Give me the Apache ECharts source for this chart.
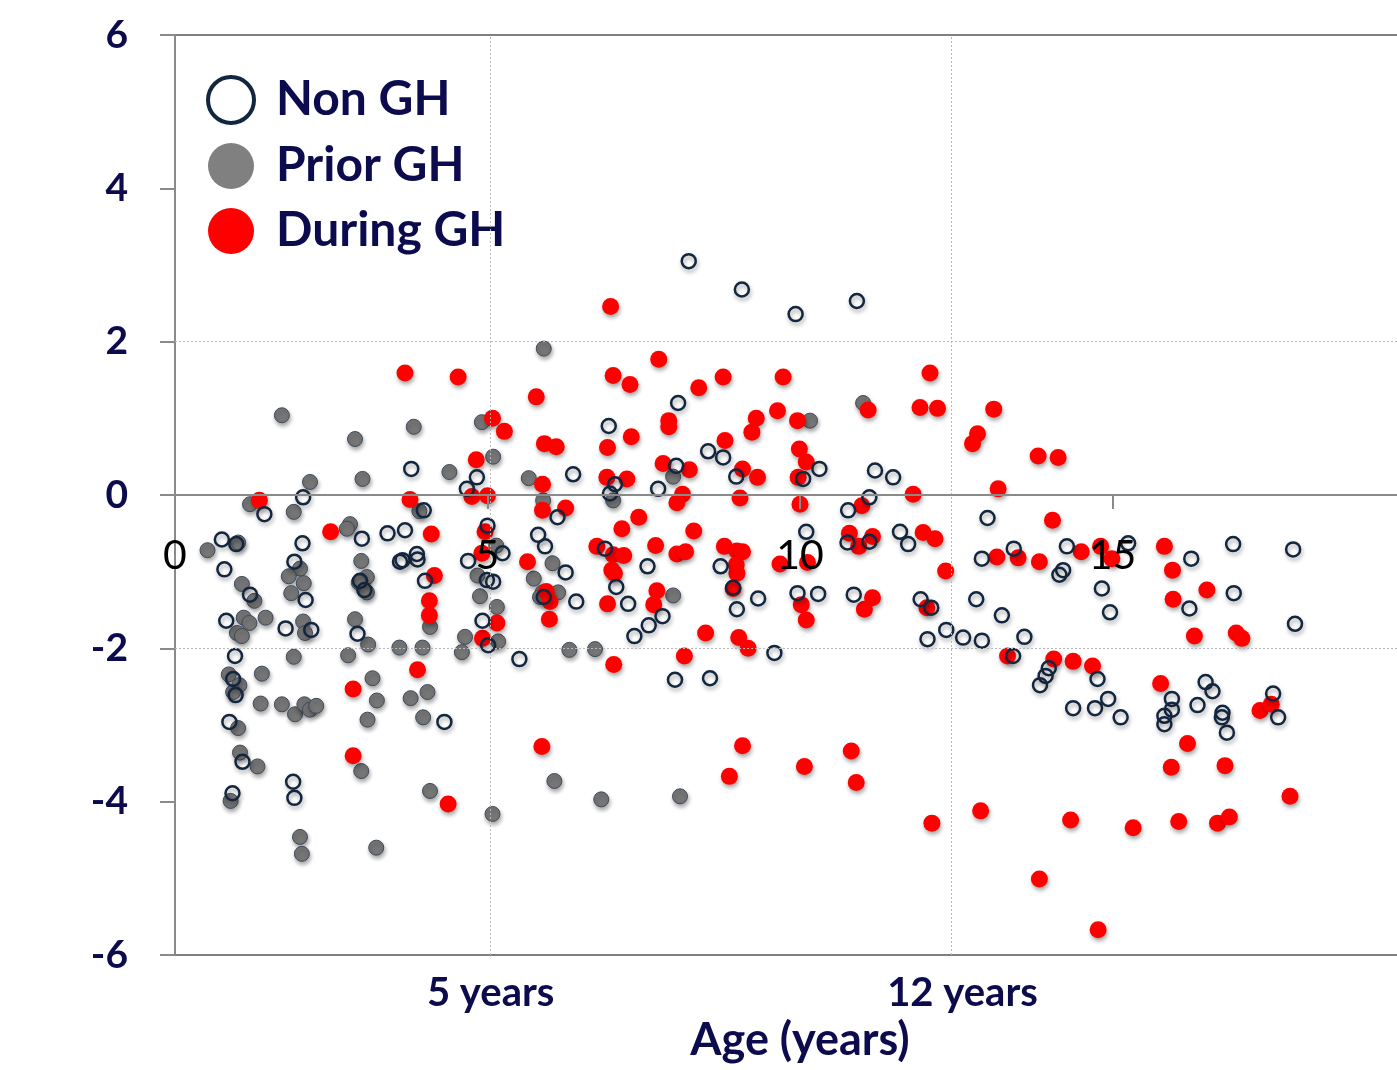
<!DOCTYPE html>
<html>
<head>
<meta charset="utf-8">
<title>Height SDS by age</title>
<script src="https://cdn.jsdelivr.net/npm/echarts@6/dist/echarts.min.js"></script>
<style>
  html, body { margin: 0; padding: 0; background: #fff; }
  #chart { width: 1397px; height: 1070px; }
</style>
</head>
<body>
<div id="chart"></div>
<script>
// Non GH (open circles)  [age, SDS]
var nonGH = [
  [4.83,0.23],[4.67,0.08],[3.78,0.34],[3.98,-0.2],[1.43,-0.25],[2.05,-0.03],[2.99,-0.57],[3.4,-0.5],
  [3.68,-0.46],[5.0,-0.4],[5.24,-0.76],[4.69,-0.86],[0.75,-0.58],[0.98,-0.64],[0.79,-0.97],[2.04,-0.63],
  [1.91,-0.87],[2.09,-1.37],[2.96,-1.12],[3.03,-1.24],[3.6,-0.87],[3.64,-0.85],[3.87,-0.77],[3.88,-0.84],
  [4.0,-1.12],[4.99,-1.11],[5.09,-1.13],[4.92,-1.64],[5.01,-1.96],[1.2,-1.3],[0.82,-1.64],[0.96,-2.1],
  [1.77,-1.74],[2.18,-1.76],[2.92,-1.81],
  [0.93,-2.4],[0.97,-2.61],[0.87,-2.96],[1.08,-3.48],[0.92,-3.89],[1.89,-3.74],[1.91,-3.95],[4.31,-2.96],
  [8.22,3.05],[9.07,2.68],[9.93,2.36],[8.05,1.2],[6.94,0.9],[8.53,0.57],[8.77,0.49],[6.37,0.27],
  [8.02,0.38],[8.98,0.24],[7.04,0.14],[6.96,0.02],[10.05,0.21],[7.73,0.08],[6.12,-0.29],[5.81,-0.52],
  [5.92,-0.67],[6.25,-1.01],[6.88,-0.7],[7.56,-0.93],[8.73,-0.93],[7.06,-1.2],[8.93,-1.21],[9.33,-1.35],
  [8.99,-1.49],[9.96,-1.28],[5.9,-1.33],[6.42,-1.39],[7.25,-1.42],[7.8,-1.58],[7.58,-1.7],[7.35,-1.84],
  [9.59,-2.06],[5.51,-2.14],[8.0,-2.41],[8.56,-2.39],
  [10.91,2.53],[10.31,0.34],[11.2,0.32],[11.49,0.23],[11.11,-0.03],[10.77,-0.2],[13.0,-0.3],[10.1,-0.48],
  [10.76,-0.62],[11.11,-0.61],[11.6,-0.48],[11.73,-0.64],[12.91,-0.83],[13.42,-0.7],[14.27,-0.67],
  [14.21,-0.98],[14.15,-1.04],[10.29,-1.29],[10.86,-1.3],[11.93,-1.36],[12.1,-1.47],[12.04,-1.88],
  [12.34,-1.76],[12.61,-1.86],[12.91,-1.9],[12.82,-1.36],[13.23,-1.57],[13.59,-1.85],[13.41,-2.1],
  [13.98,-2.26],[13.93,-2.36],[13.84,-2.48],[14.76,-2.4],[14.37,-2.78],[14.72,-2.78],
  [15.25,-0.63],[16.26,-0.83],[16.93,-0.64],[17.89,-0.71],[14.83,-1.22],[14.96,-1.53],[16.23,-1.48],
  [16.94,-1.28],[17.92,-1.68],[14.93,-2.66],[15.13,-2.9],[15.95,-2.66],[15.95,-2.8],[15.83,-2.88],
  [15.83,-2.99],[16.36,-2.74],[16.49,-2.44],[16.6,-2.56],[16.76,-2.84],[16.75,-2.9],[16.83,-3.1],
  [17.57,-2.59],[17.65,-2.9]
];

// Prior GH (grey)
var priorGH = [
  [1.71,1.04],[2.88,0.73],[3.82,0.89],[3.0,0.21],[2.16,0.17],[4.39,0.3],[4.91,0.95],[5.09,0.5],
  [3.91,-0.21],[1.2,-0.12],[1.9,-0.22],[2.8,-0.38],[2.75,-0.44],[5.14,-0.66],[0.52,-0.72],[1.01,-0.62],
  [2.0,-0.96],[1.82,-1.06],[2.06,-1.15],[1.86,-1.28],[2.98,-0.86],[3.07,-1.07],[2.94,-1.14],[3.07,-1.27],
  [4.08,-1.72],[4.88,-1.32],[4.84,-1.05],[5.15,-1.46],[5.17,-1.91],[4.64,-1.85],[4.59,-2.05],[1.07,-1.16],
  [1.27,-1.38],[1.45,-1.6],[1.1,-1.6],[1.19,-1.67],[0.99,-1.8],[1.07,-1.84],[2.05,-1.65],[2.08,-1.8],
  [1.9,-2.11],[2.88,-1.62],[3.09,-1.95],[2.77,-2.09],[3.59,-1.99],[3.96,-1.99],[0.86,-2.34],[1.03,-2.48],
  [0.93,-2.57],[1.39,-2.33],[1.37,-2.72],[1.71,-2.73],[1.92,-2.86],[2.07,-2.73],[2.16,-2.8],[2.26,-2.75],
  [1.01,-3.04],[1.04,-3.36],[1.32,-3.54],[0.89,-3.99],[2.0,-4.46],[2.03,-4.68],[3.16,-2.39],[3.23,-2.68],
  [3.08,-2.93],[3.77,-2.65],[4.04,-2.57],[3.97,-2.9],[2.98,-3.6],[4.08,-3.86],[5.08,-4.16],[3.22,-4.6],
  [5.9,1.91],[5.66,0.22],[7.97,0.24],[7.01,-0.07],[5.89,-0.07],[6.04,-0.89],[5.74,-1.09],[5.88,-1.27],
  [6.13,-1.27],[5.84,-1.33],[7.97,-1.31],[6.31,-2.02],[6.72,-2.01],[6.07,-3.73],[6.82,-3.97],[8.08,-3.93],
  [11.01,1.2],[10.16,0.97]
];

// During GH (red)
var duringGH = [
  [5.08,1.0],[5.27,0.83],[4.82,0.46],[4.75,-0.02],[5.0,-0.01],[3.76,-0.06],[1.35,-0.07],[2.49,-0.48],
  [4.1,-0.51],[4.96,-0.48],[4.91,-0.76],[4.15,-1.05],[4.07,-1.38],[4.07,-1.57],[5.15,-1.67],[4.92,-1.87],
  [3.88,-2.28],[2.85,-2.53],[2.85,-3.4],[4.37,-4.03],[3.68,1.59],[4.53,1.54],
  [6.97,2.46],[7.74,1.77],[7.01,1.56],[7.28,1.44],[8.38,1.4],[8.77,1.54],[9.73,1.54],[5.78,1.28],
  [7.9,0.97],[7.9,0.89],[9.64,1.1],[9.3,1.0],[9.23,0.82],[9.96,0.97],[5.91,0.67],[6.1,0.63],
  [7.3,0.76],[6.92,0.62],[8.8,0.71],[9.99,0.6],[10.1,0.43],[7.81,0.41],[8.23,0.33],[9.08,0.34],
  [9.32,0.23],[6.91,0.23],[7.23,0.21],[9.97,0.23],[8.12,0.01],[8.03,-0.1],[9.04,-0.04],[10.0,-0.12],
  [5.88,0.14],[5.88,-0.2],[6.25,-0.17],[7.42,-0.29],[7.15,-0.44],[8.3,-0.47],[5.64,-0.87],[6.75,-0.67],
  [7.01,-0.78],[7.18,-0.79],[6.99,-0.98],[7.03,-1.02],[7.69,-0.66],[8.03,-0.77],[8.17,-0.74],[8.79,-0.67],
  [8.99,-0.73],[9.08,-0.74],[8.98,-0.91],[8.99,-1.02],[9.68,-0.9],[10.12,-0.88],[8.93,-1.22],[10.02,-1.43],
  [10.1,-1.63],[5.94,-1.26],[6.0,-1.39],[5.99,-1.62],[6.92,-1.42],[7.71,-1.25],[7.66,-1.43],[8.49,-1.8],
  [9.02,-1.86],[9.17,-2.0],[7.02,-2.21],[8.15,-2.1],[5.87,-3.28],[9.08,-3.27],[8.87,-3.67],[10.07,-3.54],
  [12.08,1.59],[11.09,1.11],[11.92,1.14],[12.2,1.13],[13.1,1.12],[12.84,0.8],[12.76,0.67],[13.81,0.51],
  [14.13,0.49],[11.81,0.01],[13.17,0.08],[10.99,-0.14],[14.04,-0.33],[10.79,-0.5],[10.94,-0.67],
  [11.16,-0.54],[11.97,-0.49],[12.16,-0.57],[12.33,-0.99],[13.15,-0.81],[13.49,-0.82],[13.83,-0.87],
  [14.5,-0.74],[11.16,-1.34],[11.03,-1.49],[12.03,-1.47],[13.32,-2.1],[14.06,-2.14],[14.37,-2.17],
  [14.68,-2.23],[10.82,-3.34],[10.9,-3.75],[12.11,-4.28],[12.89,-4.12],[14.33,-4.24],[13.83,-5.01],
  [14.77,-5.67],
  [14.81,-0.67],[14.99,-0.83],[15.83,-0.67],[15.96,-0.98],[15.97,-1.36],[16.51,-1.24],[16.31,-1.84],
  [16.98,-1.8],[17.07,-1.87],[15.77,-2.46],[17.36,-2.81],[17.54,-2.73],[16.2,-3.24],[15.94,-3.55],
  [16.8,-3.53],[17.84,-3.93],[15.33,-4.34],[16.06,-4.26],[16.68,-4.28],[16.87,-4.2]
];

// bottom age marks and dotted reference lines
var ageMarkValues = [5.05, 12.6];
var ageMarkLabels = ['5 years', '12 years'];
var gridLinesX = [5.05, 12.42];
var gridLinesY = [2, -2];

var navy = '#0b0b4d';
var axisGrey = '#8a8a8a';
var font = 'Lato, "Open Sans", sans-serif';
var dropShadow = {
  shadowBlur: 4,
  shadowColor: 'rgba(0,0,0,0.35)',
  shadowOffsetX: 1,
  shadowOffsetY: 3
};
var noShadow = { shadowBlur: 0, shadowOffsetX: 0, shadowOffsetY: 0, shadowColor: 'transparent', opacity: 1 };

var chart = echarts.init(document.getElementById('chart'));

var refLines = [];
gridLinesX.forEach(function (v) { refLines.push({ xAxis: v }); });
gridLinesY.forEach(function (v) { refLines.push({ yAxis: v }); });

chart.setOption({
  animation: false,
  textStyle: { fontFamily: font },
  grid: {
    left: 175,
    top: 35,
    width: 1250,
    height: 920,
    show: true,
    borderColor: '#7f7f7f',
    borderWidth: 2,
    containLabel: false,
    outerBoundsMode: 'none'
  },
  legend: {
    orient: 'vertical',
    left: 201,
    top: 70,
    padding: 5,
    itemWidth: 46,
    itemHeight: 46,
    itemGap: 17,
    selectedMode: false,
    textStyle: { color: navy, fontSize: 48, fontWeight: 'bold', fontFamily: font, padding: [0, 0, 0, 17] },
    data: [
      { name: 'Non GH', icon: 'circle',
        itemStyle: Object.assign({ color: '#fff', borderColor: '#13263f', borderWidth: 4 }, noShadow) },
      { name: 'Prior GH', icon: 'circle',
        itemStyle: Object.assign({ color: '#808080', borderWidth: 0 }, noShadow) },
      { name: 'During GH', icon: 'circle',
        itemStyle: Object.assign({ color: '#ff0000', borderWidth: 0 }, noShadow) }
    ]
  },
  xAxis: [
    {
      // age axis drawn across the zero line, labels on top of the points
      type: 'value',
      position: 'bottom',
      z: 5,
      min: 0,
      max: 20,
      interval: 5,
      offset: -460,
      axisLine: { onZero: false, lineStyle: { color: axisGrey, width: 2 } },
      axisTick: { show: true, inside: false, length: 14, lineStyle: { color: axisGrey, width: 2 } },
      axisLabel: { color: '#000', fontSize: 41, margin: 40, fontFamily: font },
      splitLine: { show: false }
    },
    {
      type: 'value',
      position: 'bottom',
      min: 0,
      max: 20,
      name: 'Age (years)',
      nameLocation: 'middle',
      nameGap: 62,
      nameTextStyle: { color: navy, fontSize: 45, fontWeight: 'bold', fontFamily: font },
      axisLine: { onZero: false, lineStyle: { color: '#7f7f7f', width: 2 } },
      axisTick: { show: false },
      splitLine: { show: false },
      axisLabel: {
        color: navy,
        fontSize: 40,
        fontWeight: 'bold',
        margin: 18,
        customValues: ageMarkValues,
        formatter: function (v) {
          for (var i = 0; i < ageMarkValues.length; i++) {
            if (Math.abs(ageMarkValues[i] - v) < 1e-6) return ageMarkLabels[i];
          }
          return '';
        }
      }
    }
  ],
  yAxis: {
    type: 'value',
    min: -6,
    max: 6,
    interval: 2,
    axisLine: { show: true, onZero: false, lineStyle: { color: axisGrey, width: 2 } },
    axisTick: { show: true, inside: false, length: 15, lineStyle: { color: axisGrey, width: 2 } },
    axisLabel: { color: navy, fontSize: 39, fontWeight: 'bold', margin: 47, fontFamily: font },
    splitLine: { show: false }
  },
  series: [
    {
      name: 'Non GH',
      type: 'scatter',
      z: 4,
      symbol: 'circle',
      symbolSize: 14,
      silent: true,
      itemStyle: Object.assign({ color: 'rgba(255,255,255,0)', borderColor: '#13263f', borderWidth: 2.5, opacity: 1 }, dropShadow),
      data: nonGH
    },
    {
      name: 'Prior GH',
      type: 'scatter',
      z: 2,
      symbol: 'circle',
      symbolSize: 15,
      silent: true,
      itemStyle: Object.assign({ color: '#767676', borderColor: '#3e4a5c', borderWidth: 1, opacity: 1 }, dropShadow),
      data: priorGH,
      markLine: {
        silent: true,
        symbol: 'none',
        label: { show: false },
        lineStyle: { color: '#b8b8b8', type: [2, 2], width: 1 },
        data: refLines
      }
    },
    {
      name: 'During GH',
      type: 'scatter',
      z: 3,
      symbol: 'circle',
      symbolSize: 17,
      silent: true,
      itemStyle: Object.assign({ color: '#ff0000', borderWidth: 0, opacity: 1 }, dropShadow),
      data: duringGH
    }
  ]
});
</script>
</body>
</html>
